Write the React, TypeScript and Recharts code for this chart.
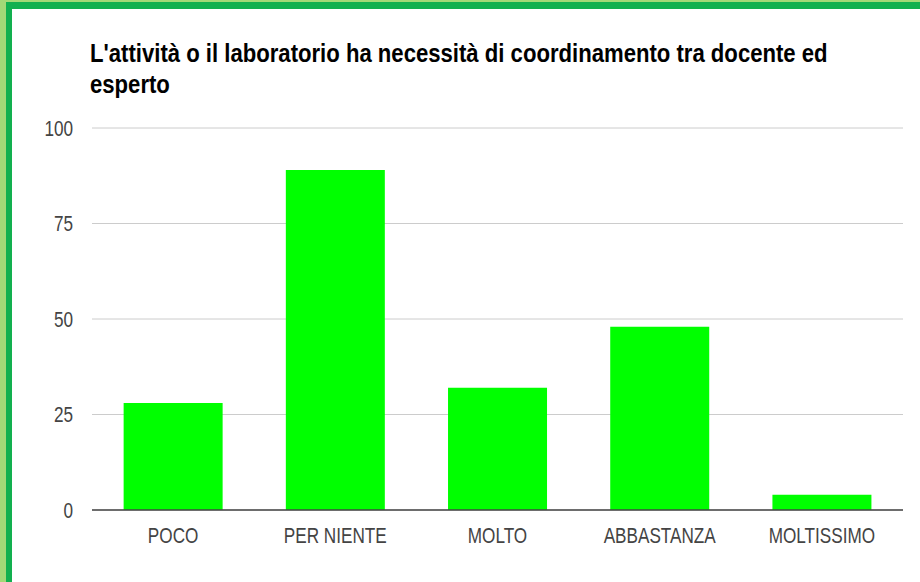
import { BarChart, Bar, XAxis, YAxis, CartesianGrid } from "recharts";

const categories = ["POCO", "PER NIENTE", "MOLTO", "ABBASTANZA", "MOLTISSIMO"];
const values = [28, 89, 32, 48, 4];
const yTicks = [0, 25, 50, 75, 100];
const titleLines = [
    "L'attività o il laboratorio ha necessità di coordinamento tra docente ed",
    "esperto",
];

const data = categories.map((name, i) => ({ name, value: values[i] }));

const FONT = "'Liberation Sans', Arial, sans-serif";
const SX = 0.78; // the picture is a bit squeezed sideways
const TITLE_SX = 0.885;

const YTick = (props: any) => {
    const { x, y, payload } = props;
    return (
        <text
            transform={`translate(${x},${y}) scale(${SX},1)`}
            textAnchor="end"
            dy="0.36em"
            fontSize={22}
            fontFamily={FONT}
            fill="#444"
        >
            {payload.value}
        </text>
    );
};

const XTick = (props: any) => {
    const { x, y, payload } = props;
    return (
        <text
            transform={`translate(${x},${y}) scale(${SX},1)`}
            textAnchor="middle"
            dy={33}
            fontSize={22}
            fontFamily={FONT}
            fill="#444"
        >
            {payload.value}
        </text>
    );
};

export default function App() {
    return (
        <div
            style={{
                position: "absolute",
                left: 0,
                top: 0,
                width: 920,
                height: 582,
                background: "#a3d977",
                overflow: "hidden",
            }}
        >
            <div
                style={{
                    position: "absolute",
                    left: 6,
                    top: 2,
                    width: 914,
                    height: 580,
                    background: "#12b04f",
                }}
            />
            <div
                style={{
                    position: "absolute",
                    left: 12,
                    top: 9,
                    width: 908,
                    height: 573,
                    background: "#fff",
                }}
            />

            {/* Title */}
            <svg
                width={920}
                height={110}
                style={{ position: "absolute", left: 0, top: 0 }}
            >
                {titleLines.map((line, i) => (
                    <text
                        key={i}
                        transform={`translate(90,${62 + i * 31}) scale(${TITLE_SX},1)`}
                        fontSize={25}
                        fontWeight="bold"
                        fontFamily={FONT}
                        fill="#000"
                    >
                        {line}
                    </text>
                ))}
            </svg>

            <div style={{ position: "absolute", left: 0, top: 0 }}>
                <BarChart
                    width={920}
                    height={582}
                    data={data}
                    margin={{ top: 128, right: 17, bottom: 32, left: 32 }}
                    barCategoryGap="19.5%"
                >
                    <CartesianGrid
                        vertical={false}
                        stroke="#cccccc"
                        strokeWidth={1}
                    />
                    <XAxis
                        dataKey="name"
                        height={40}
                        tickLine={false}
                        tickSize={0}
                        tickMargin={0}
                        axisLine={{ stroke: "#444", strokeWidth: 1.5 }}
                        tick={<XTick />}
                        interval={0}
                    />
                    <YAxis
                        width={60}
                        domain={[0, 100]}
                        ticks={yTicks}
                        axisLine={false}
                        tickLine={false}
                        tickSize={0}
                        tickMargin={19}
                        tick={<YTick />}
                    />
                    <Bar
                        dataKey="value"
                        fill="#00ff00"
                        isAnimationActive={false}
                    />
                </BarChart>
            </div>
        </div>
    );
}
